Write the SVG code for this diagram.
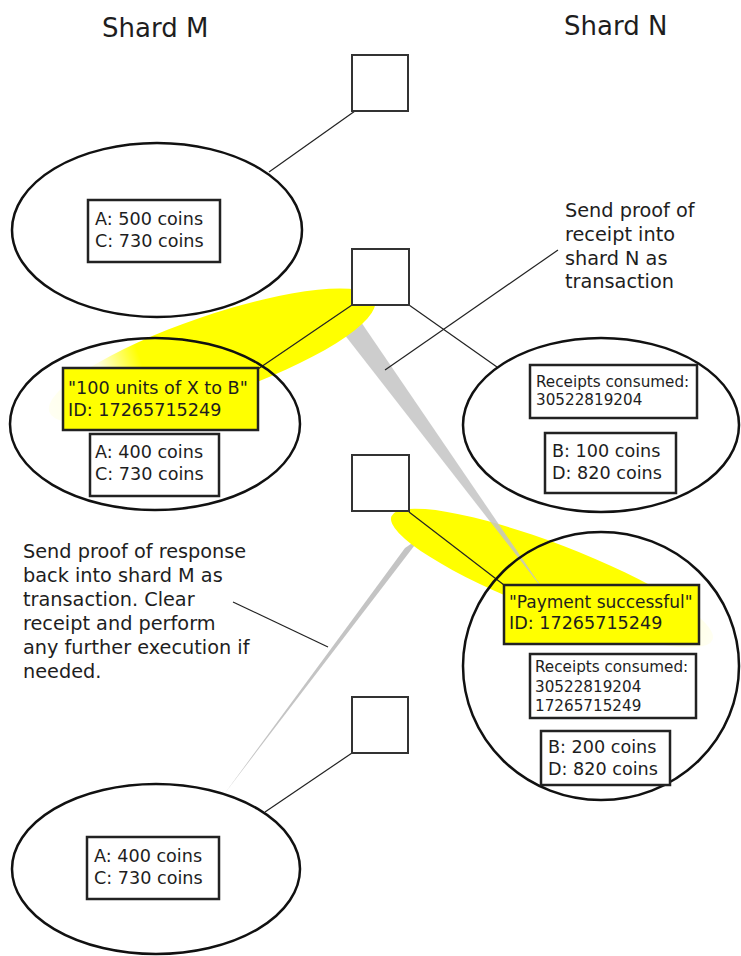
<svg xmlns="http://www.w3.org/2000/svg" width="741" height="956" viewBox="0 0 741 956">
<style>
text{font-family:"DejaVu Sans",Verdana,sans-serif;fill:#1e1e1e}
.t{font-size:17.6px}
.q{font-size:17px}
.s{font-size:15.2px}
.c{font-size:19.3px}
.h{font-size:26px}
.ell{fill:none;stroke:#111;stroke-width:2.5}
.box{fill:#fff;stroke:#222;stroke-width:2.5}
.ybox{fill:#ffff00;stroke:#222;stroke-width:2.5}
.sq{fill:#fff;stroke:#333;stroke-width:2}
.ln{stroke:#222;stroke-width:1.2;fill:none}
.wedge{fill:#c4c4c4}
</style>
<defs>
<linearGradient id="g1" x1="0" y1="0" x2="1" y2="0">
<stop offset="0" stop-color="#ffff00" stop-opacity="0.05"/>
<stop offset="0.18" stop-color="#ffff00" stop-opacity="0.12"/>
<stop offset="0.3" stop-color="#ffff00" stop-opacity="1"/>
<stop offset="1" stop-color="#ffff00" stop-opacity="1"/>
</linearGradient>
<linearGradient id="g2" x1="0" y1="0" x2="1" y2="0">
<stop offset="0" stop-color="#ffff00" stop-opacity="1"/>
<stop offset="0.74" stop-color="#ffff00" stop-opacity="1"/>
<stop offset="0.86" stop-color="#ffff00" stop-opacity="0.15"/>
<stop offset="1" stop-color="#ffff00" stop-opacity="0.05"/>
</linearGradient>
</defs>

<g id="titles">
<text class="h" x="102" y="37">Shard M</text>
<text class="h" x="564" y="35">Shard N</text>
</g>

<g id="highlights">
<polygon class="wedge" points="405,548 421,537 225,793"/>
<ellipse cx="552" cy="578" rx="172" ry="34" transform="rotate(21 552 578)" fill="url(#g2)"/>
<polygon class="wedge" points="344,334 361,322 545,592" opacity="0.85"/>
<ellipse cx="212" cy="356" rx="172" ry="40" transform="rotate(-19 212 356)" fill="url(#g1)"/>
</g>

<g id="connectors">
<line class="ln" x1="355" y1="111" x2="269" y2="172"/>
<line class="ln" x1="352" y1="305" x2="258" y2="369"/>
<line class="ln" x1="409" y1="305" x2="497" y2="367"/>
<line class="ln" x1="558" y1="250" x2="385" y2="370"/>
<line class="ln" x1="409" y1="512" x2="504" y2="585"/>
<line class="ln" x1="233" y1="602" x2="328" y2="647"/>
<line class="ln" x1="352" y1="753" x2="265" y2="812"/>
</g>

<g id="block-m1">
<rect class="sq" x="352" y="55" width="56" height="56"/>
</g>
<g id="block-n1">
<rect class="sq" x="352" y="249" width="57" height="56"/>
</g>
<g id="block-n2">
<rect class="sq" x="352" y="455" width="57" height="56"/>
</g>
<g id="block-m2">
<rect class="sq" x="352" y="697" width="56" height="56"/>
</g>

<g id="state-m1">
<ellipse class="ell" cx="157" cy="230" rx="145" ry="87"/>
<rect class="box" x="88" y="200" width="132" height="62"/>
<text class="t" x="95" y="225">A: 500 coins</text>
<text class="t" x="95" y="247">C: 730 coins</text>
</g>

<g id="state-m2">
<ellipse class="ell" cx="155" cy="424" rx="145" ry="86"/>
<rect class="ybox" x="63" y="368" width="195" height="62"/>
<text class="t" x="68" y="394">"100 units of X to B"</text>
<text class="t" x="68" y="416">ID: 17265715249</text>
<rect class="box" x="90" y="434" width="129" height="62"/>
<text class="t" x="95" y="458">A: 400 coins</text>
<text class="t" x="95" y="480">C: 730 coins</text>
</g>

<g id="state-n1">
<ellipse class="ell" cx="601" cy="425" rx="138" ry="87"/>
<rect class="box" x="530" y="365" width="167" height="53"/>
<text class="s" x="536" y="387">Receipts consumed:</text>
<text class="s" x="536" y="405">30522819204</text>
<rect class="box" x="545" y="433" width="131" height="60"/>
<text class="t" x="552" y="457">B: 100 coins</text>
<text class="t" x="552" y="479">D: 820 coins</text>
</g>

<g id="state-n2">
<ellipse class="ell" cx="601" cy="666" rx="138" ry="134"/>
<rect class="ybox" x="504" y="585" width="195" height="59"/>
<text class="q" x="509" y="608">"Payment successful"</text>
<text class="t" x="509" y="629">ID: 17265715249</text>
<rect class="box" x="530" y="654" width="166" height="64"/>
<text class="s" x="535" y="672">Receipts consumed:</text>
<text class="s" x="535" y="692">30522819204</text>
<text class="s" x="535" y="711">17265715249</text>
<rect class="box" x="541" y="731" width="129" height="54"/>
<text class="t" x="548" y="753">B: 200 coins</text>
<text class="t" x="548" y="775">D: 820 coins</text>
</g>

<g id="state-m3">
<ellipse class="ell" cx="156" cy="869" rx="144" ry="85"/>
<rect class="box" x="87" y="837" width="132" height="62"/>
<text class="t" x="94" y="862">A: 400 coins</text>
<text class="t" x="94" y="884">C: 730 coins</text>
</g>

<g id="note-receipt">
<text class="c" x="565" y="217">Send proof of</text>
<text class="c" x="565" y="241">receipt into</text>
<text class="c" x="565" y="265">shard N as</text>
<text class="c" x="565" y="288">transaction</text>
</g>

<g id="note-response">
<text class="c" x="23" y="558">Send proof of response</text>
<text class="c" x="23" y="582">back into shard M as</text>
<text class="c" x="23" y="606">transaction. Clear</text>
<text class="c" x="23" y="630">receipt and perform</text>
<text class="c" x="23" y="654">any further execution if</text>
<text class="c" x="23" y="678">needed.</text>
</g>
</svg>
